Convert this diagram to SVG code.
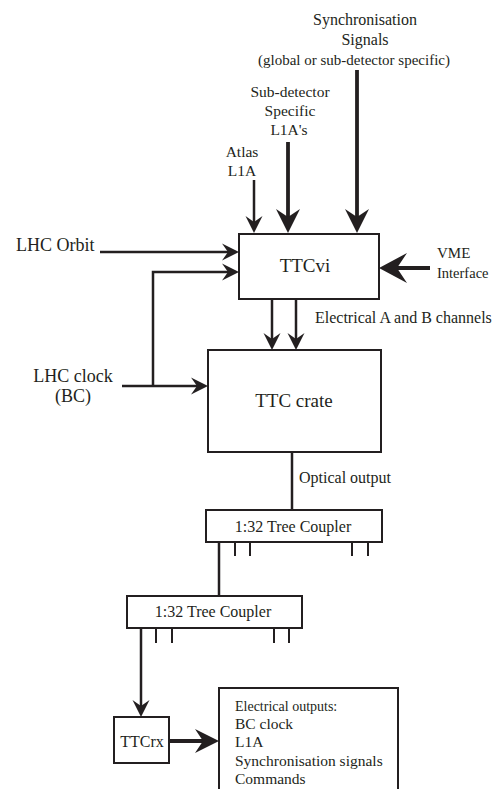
<svg xmlns="http://www.w3.org/2000/svg" width="496" height="789" viewBox="0 0 496 789">
<style>
text{font-family:"Liberation Serif","Times New Roman",serif;fill:#231f20}
.box{fill:#fff;stroke:#231f20;stroke-width:2}
.ln{fill:none;stroke:#231f20;stroke-width:2.5}
.thk{fill:none;stroke:#231f20;stroke-width:3.8}
.tk{stroke:#231f20;stroke-width:2}
.m{text-anchor:middle}
</style>
<defs>
<marker id="ahS" markerUnits="userSpaceOnUse" markerWidth="40" markerHeight="40" viewBox="-10 -20 40 40" refX="6" refY="0" orient="auto" overflow="visible">
<path d="M17,0 L0,-8.5 L6,0 L0,8.5 Z" fill="#231f20"/>
</marker>
<marker id="ahL" markerUnits="userSpaceOnUse" markerWidth="50" markerHeight="50" viewBox="-10 -25 50 50" refX="8" refY="0" orient="auto" overflow="visible">
<path d="M24,0 L0,-12 L8,0 L0,12 Z" fill="#231f20"/>
</marker>
<marker id="ahX" markerUnits="userSpaceOnUse" markerWidth="60" markerHeight="60" viewBox="-10 -30 60 60" refX="10" refY="0" orient="auto" overflow="visible">
<path d="M28,0 L0,-15 L10,0 L0,15 Z" fill="#231f20"/>
</marker>
</defs>
<rect width="496" height="789" fill="#fff"/>
<g id="labels">
<text x="365" y="25" class="m" font-size="16">Synchronisation</text>
<text x="365" y="45" class="m" font-size="16">Signals</text>
<text x="354" y="65" class="m" font-size="15">(global or sub-detector specific)</text>
<text x="290" y="97" class="m" font-size="15.5">Sub-detector</text>
<text x="290" y="116" class="m" font-size="15.5">Specific</text>
<text x="289" y="135" class="m" font-size="15.5">L1A's</text>
<text x="242" y="157" class="m" font-size="15.5">Atlas</text>
<text x="242" y="176" class="m" font-size="15.5">L1A</text>
<text x="16" y="251" font-size="18">LHC Orbit</text>
<text x="73" y="382" class="m" font-size="18">LHC clock</text>
<text x="73" y="402" class="m" font-size="18">(BC)</text>
<text x="437" y="258" font-size="15">VME</text>
<text x="437" y="278" font-size="14.5">Interface</text>
<text x="315" y="323" font-size="16">Electrical A and B channels</text>
<text x="299" y="483" font-size="16">Optical output</text>
</g>
<g id="TTCvi">
<rect class="box" x="239" y="234" width="140" height="65"/>
<text x="305" y="272" class="m" font-size="19">TTCvi</text>
</g>
<g id="TTCcrate">
<rect class="box" x="208" y="350" width="173" height="102"/>
<text x="294" y="407" class="m" font-size="19">TTC crate</text>
</g>
<g id="coupler1">
<rect class="box" x="206" y="510" width="176" height="32"/>
<text x="293" y="532" class="m" font-size="16">1:32 Tree Coupler</text>
<line class="tk" x1="235" y1="542" x2="235" y2="556"/>
<line class="tk" x1="250" y1="542" x2="250" y2="556"/>
<line class="tk" x1="352" y1="542" x2="352" y2="556"/>
<line class="tk" x1="368" y1="542" x2="368" y2="556"/>
</g>
<g id="coupler2">
<rect class="box" x="127" y="596" width="175" height="32"/>
<text x="213" y="617" class="m" font-size="16">1:32 Tree Coupler</text>
<line class="tk" x1="156" y1="628" x2="156" y2="643"/>
<line class="tk" x1="172" y1="628" x2="172" y2="643"/>
<line class="tk" x1="274" y1="628" x2="274" y2="643"/>
<line class="tk" x1="289" y1="628" x2="289" y2="643"/>
</g>
<g id="TTCrx">
<rect class="box" x="114" y="717" width="55" height="46"/>
<text x="142" y="747" class="m" font-size="16">TTCrx</text>
</g>
<g id="outputs">
<rect class="box" x="219" y="688" width="179" height="120"/>
<text x="235" y="711" font-size="14">Electrical outputs:</text>
<text x="235" y="729" font-size="15.5">BC clock</text>
<text x="235" y="747" font-size="15.5">L1A</text>
<text x="235" y="766" font-size="15.5">Synchronisation signals</text>
<text x="235" y="784" font-size="15.5">Commands</text>
</g>
<g id="connectors">
<line class="ln" x1="254" y1="180" x2="254" y2="222" marker-end="url(#ahS)"/>
<line class="thk" x1="288" y1="142" x2="288" y2="217" marker-end="url(#ahL)"/>
<line class="thk" x1="357" y1="70" x2="357" y2="217" marker-end="url(#ahL)"/>
<line class="ln" x1="100" y1="252" x2="228" y2="252" marker-end="url(#ahS)"/>
<polyline class="ln" points="153,386 153,272 228,272" marker-end="url(#ahS)"/>
<line class="ln" x1="122" y1="386" x2="197" y2="386" marker-end="url(#ahS)"/>
<line class="thk" x1="430" y1="268" x2="397" y2="268" marker-end="url(#ahX)"/>
<line class="ln" x1="272" y1="300" x2="272" y2="339" marker-end="url(#ahS)"/>
<line class="ln" x1="296" y1="300" x2="296" y2="339" marker-end="url(#ahS)"/>
<line class="ln" x1="292" y1="452" x2="292" y2="510"/>
<line class="ln" x1="219" y1="542" x2="219" y2="596"/>
<line class="ln" x1="141" y1="628" x2="141" y2="706" marker-end="url(#ahS)"/>
<line class="thk" x1="169" y1="741" x2="203" y2="741" marker-end="url(#ahL)"/>
</g>
</svg>
